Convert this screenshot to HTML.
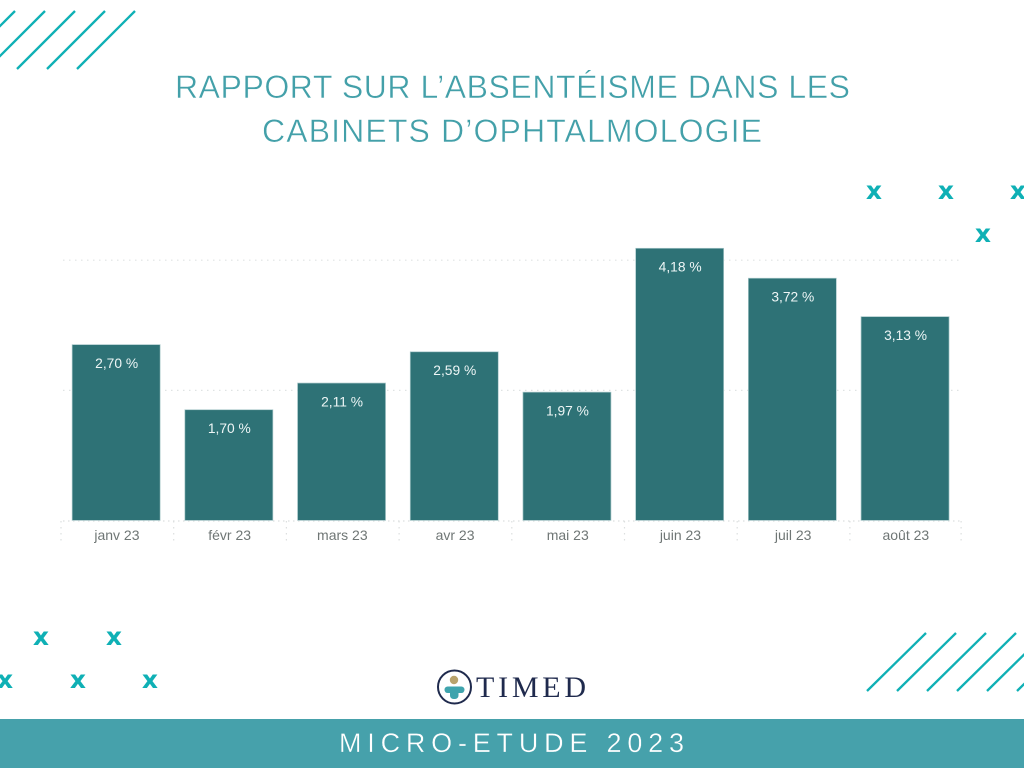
<!DOCTYPE html>
<html lang="fr">
<head>
<meta charset="utf-8">
<title>Rapport sur l'absentéisme</title>
<style>
html,body{margin:0;padding:0;background:#fff;width:1024px;height:768px;overflow:hidden}
svg{display:block;font-family:"Liberation Sans",sans-serif}
</style>
</head>
<body>
<svg id="root" width="1024" height="768" viewBox="0 0 1024 768" xmlns="http://www.w3.org/2000/svg">
  <rect width="1024" height="768" fill="#ffffff"/>

  <g stroke="#0fb0b5" stroke-width="2.3">
    <line x1="15" y1="11" x2="-43" y2="69"/>
    <line x1="45" y1="11" x2="-13" y2="69"/>
    <line x1="75" y1="11" x2="17" y2="69"/>
    <line x1="105" y1="11" x2="47" y2="69"/>
    <line x1="135" y1="11" x2="77" y2="69"/>
  </g>

  <g stroke="#0fb0b5" stroke-width="2.3">
    <line x1="926" y1="633" x2="867" y2="691"/>
    <line x1="956" y1="633" x2="897" y2="691"/>
    <line x1="986" y1="633" x2="927" y2="691"/>
    <line x1="1016" y1="633" x2="957" y2="691"/>
    <line x1="1046" y1="633" x2="987" y2="691"/>
    <line x1="1076" y1="633" x2="1017" y2="691"/>
  </g>

  <g font-size="32" fill="#43a0a9" stroke="#ffffff" stroke-width="0.45" text-anchor="start">
    <text x="175" y="98" textLength="675" lengthAdjust="spacing">RAPPORT SUR L’ABSENTÉISME DANS LES</text>
    <text x="262" y="142" textLength="500" lengthAdjust="spacing">CABINETS D’OPHTALMOLOGIE</text>
  </g>

  <g font-family="DejaVu Sans, sans-serif" font-size="25" font-weight="bold" fill="#0fb0b5" text-anchor="middle">
    <text x="874" y="199">x</text>
    <text x="946" y="199">x</text>
    <text x="1018" y="199">x</text>
    <text x="983" y="242">x</text>
    <text x="41" y="645">x</text>
    <text x="114" y="645">x</text>
    <text x="5" y="688">x</text>
    <text x="78" y="688">x</text>
    <text x="150" y="688">x</text>
  </g>

  <g id="chart"></g>

  <g>
    <circle cx="454.5" cy="687" r="16.5" fill="#ffffff" stroke="#1f2a4d" stroke-width="2"/>
    <circle cx="454" cy="680" r="4.2" fill="#b9a36c"/>
    <rect x="444.5" y="686.5" width="20" height="6.5" rx="3.2" fill="#3fa4ad"/>
    <rect x="450" y="686.5" width="8.5" height="12.5" rx="3.5" fill="#3fa4ad"/>
    <text x="476" y="697" font-family="Liberation Serif, serif" font-size="30" fill="#1f2a4d" textLength="110" lengthAdjust="spacing">TIMED</text>
  </g>

  <rect x="0" y="719" width="1024" height="49" fill="#46a1ab"/>
  <text x="339" y="752" font-size="27" fill="#ffffff" stroke="#46a1ab" stroke-width="0.35" textLength="345" lengthAdjust="spacing">MICRO-ETUDE 2023</text>
</svg>
<script>
var categories = ['janv 23', 'févr 23', 'mars 23', 'avr 23', 'mai 23', 'juin 23', 'juil 23', 'août 23'];
var absenteeismValues = [2.70, 1.70, 2.11, 2.59, 1.97, 4.18, 3.72, 3.13];
var gridTicks = [2, 4];

var NS = 'http://www.w3.org/2000/svg';
var chart = document.getElementById('chart');
var plotLeft = 60;
var bandWidth = 112.7;
var barWidth = 88;
var baselineY = 520.4;
var pxPerUnit = 65.1;

function xBand(i) { return plotLeft + bandWidth * i; }
function yValue(v) { return baselineY - v * pxPerUnit; }
function formatPercent(v) { return v.toFixed(2).replace('.', ',') + ' %'; }

function make(tag, attrs, parent) {
  var el = document.createElementNS(NS, tag);
  for (var k in attrs) { el.setAttribute(k, attrs[k]); }
  parent.appendChild(el);
  return el;
}

gridTicks.forEach(function (t) {
  var g = make('line', { x1: 63, x2: 962, y1: yValue(t) + 0.2, y2: yValue(t) + 0.2, stroke: '#dfe3e3', 'stroke-width': 1.2, 'stroke-dasharray': '1.5 4.5' }, chart);
  
  
});

categories.forEach(function (c, i) {
  var left = xBand(i);
  var sep = make('line', { x1: left + 1, x2: left + 1, y1: 521, y2: 541, stroke: '#dcdfdf', 'stroke-width': 1.2, 'stroke-dasharray': '1.5 4.5' }, chart);
  
  
});
var lastSep = make('line', { x1: xBand(categories.length) - 0.5, x2: xBand(categories.length) - 0.5, y1: 521, y2: 541, stroke: '#dcdfdf', 'stroke-width': 1.2, 'stroke-dasharray': '1.5 4.5' }, chart);


var axisLine = make('line', { x1: 63, x2: 962, y1: 521, y2: 521, stroke: '#dcdfdf', 'stroke-width': 1.2, 'stroke-dasharray': '1.5 3.5' }, chart);



absenteeismValues.forEach(function (v, i) {
  var left = xBand(i) + (bandWidth - barWidth) / 2 - 0.2;
  var top = yValue(v);
  var bar = make('rect', { x: left, y: top, width: barWidth, height: baselineY - top, fill: '#2e7276', stroke: '#a9c8ca', 'stroke-width': 0.7 }, chart);
  
  

  var label = make('text', { x: left + barWidth / 2 + 0.5, y: top + 23.4, 'text-anchor': 'middle', 'font-size': 13.8, fill: '#eef6f6' }, chart);
  label.textContent = formatPercent(v);
  
  

  var tick = make('text', { x: left + barWidth / 2 + 0.8, y: 540, 'text-anchor': 'middle', 'font-size': 14, fill: '#6f7675' }, chart);
  tick.textContent = categories[i];
  
  
});
</script>
</body>
</html>
